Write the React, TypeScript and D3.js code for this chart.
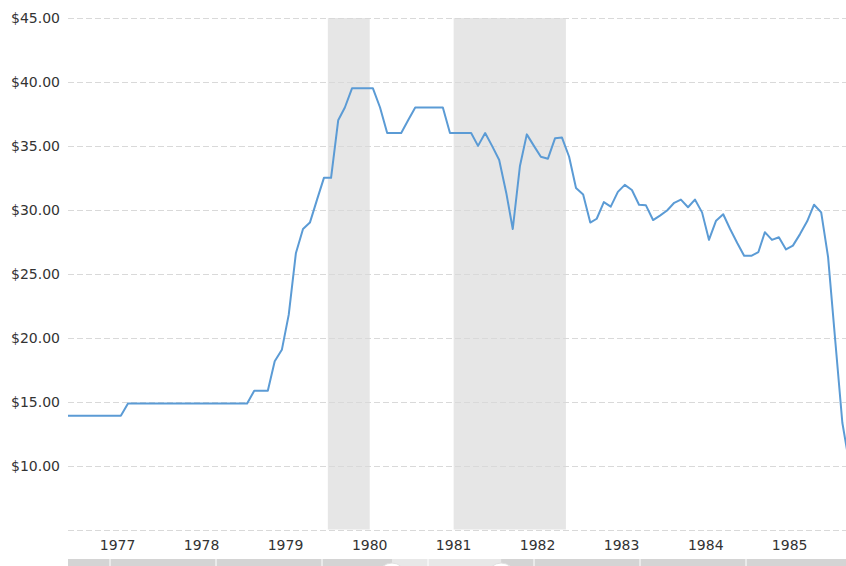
import React from 'react';
import * as d3 from 'd3';

// Monthly series starting November 1976
const startYear = 1976;
const startMonth = 10; // November (0-based)
const prices: number[] = [
  13.9, 13.9, 13.9, 13.9, 13.9, 13.9, 13.9, 13.9, 13.9,
  14.85, 14.85, 14.85, 14.85, 14.85, 14.85, 14.85, 14.85, 14.85,
  14.85, 14.85, 14.85, 14.85, 14.85, 14.85, 14.85, 14.85, 14.85,
  15.85, 15.85, 15.85, 18.15, 19.05, 21.8, 26.6, 28.5, 29.0, 30.8, 32.5,
  32.5, 37.0, 38.0, 39.5, 39.5, 39.5, 39.5, 38.0, 36.0, 36.0, 36.0, 37.0,
  38.0, 38.0, 38.0, 38.0, 38.0, 36.0, 36.0, 36.0, 36.0, 35.0, 36.0, 35.0,
  33.9, 31.3, 28.5, 33.4, 35.9, 35.0, 34.15, 34.0, 35.6, 35.65, 34.15, 31.7,
  31.2, 29.0, 29.3, 30.6, 30.25, 31.4, 31.95, 31.55, 30.4, 30.35, 29.2, 29.55,
  29.95, 30.55, 30.8, 30.2, 30.8, 29.8, 27.65, 29.15, 29.65, 28.5, 27.4, 26.4,
  26.4, 26.7, 28.25, 27.65, 27.85, 26.9, 27.2, 28.1, 29.1, 30.4, 29.8, 26.3,
  19.8, 13.35, 10.4,
];
const yLabelValues = [10, 15, 20, 25, 30, 35, 40, 45];
const gridValues = [5, 10, 15, 20, 25, 30, 35, 40, 45];
const yearLabels = [1977, 1978, 1979, 1980, 1981, 1982, 1983, 1984, 1985];
const recessionStarts = [new Date(1980, 0, 1), new Date(1981, 6, 1)];
const recessionEnds = [new Date(1980, 6, 1), new Date(1982, 10, 1)];
const navDecades = [1950, 1960, 1970, 1980, 1990, 2000, 2010];
const navSelected = [1976.6, 1986.9];

const W = 846;
const H = 566;
const left = 68;

export default function App() {
  const x = d3.scaleTime()
    .domain([new Date(1977, 0, 1), new Date(1986, 0, 1)])
    .range([76, 832]);
  const y = d3.scaleLinear().domain([5, 45]).range([529.5, 18]);
  const navX = d3.scaleLinear().domain([1950, 2020]).range([110, 852]);

  const data = prices.map((v, i) => ({
    date: new Date(startYear, startMonth + i, 15),
    value: v,
  }));
  const line = d3.line<{ date: Date; value: number }>()
    .x(d => x(d.date))
    .y(d => y(d.value));

  const font = '"DejaVu Sans", Verdana, sans-serif';

  return (
    <svg width={W} height={H} style={{ position: 'absolute', left: 0, top: 0, background: '#fff' }}
      fontFamily={font}>
      <defs>
        <clipPath id="plot">
          <rect x={left} y={0} width={W - left} height={531} />
        </clipPath>
      </defs>
      {recessionStarts.map((s, i) => (
        <rect key={'r' + i} x={x(s)} y={18} width={x(recessionEnds[i]) - x(s)} height={y(5) - 18}
          fill="#e6e6e6" />
      ))}
      {gridValues.map(v => (
        <line key={'g' + v} x1={left} x2={W} y1={Math.round(y(v)) + 0.5} y2={Math.round(y(v)) + 0.5}
          stroke="#d9d9d9" strokeWidth={1} strokeDasharray="6,3" />
      ))}
      {yLabelValues.map(v => (
        <text key={'y' + v} x={60} y={y(v) + 1} textAnchor="end" dominantBaseline="middle"
          fontSize={14} fill="#333">{'$' + v.toFixed(2)}</text>
      ))}
      {yearLabels.map(yr => (
        <text key={'x' + yr} x={x(new Date(yr, 6, 1))} y={546} textAnchor="middle"
          dominantBaseline="middle" fontSize={14} fill="#333">{yr}</text>
      ))}
      <path d={line(data) || ''} fill="none" stroke="#5b9bd5" strokeWidth={2}
        strokeLinejoin="round" clipPath="url(#plot)" />
      {/* navigator */}
      <rect x={left} y={559} width={W - left} height={H - 559} fill="#d4d4d4" />
      <rect x={navX(navSelected[0])} y={559} width={navX(navSelected[1]) - navX(navSelected[0])}
        height={H - 559} fill="#e8e8e8" />
      {navDecades.map(d => (
        <line key={'n' + d} x1={navX(d)} x2={navX(d)} y1={559} y2={H} stroke="#fff" strokeWidth={1} />
      ))}
      {navSelected.map((s, i) => (
        <ellipse key={'h' + i} cx={navX(s)} cy={575} rx={13} ry={12} fill="#fff" stroke="#e0e0e0" />
      ))}
    </svg>
  );
}
